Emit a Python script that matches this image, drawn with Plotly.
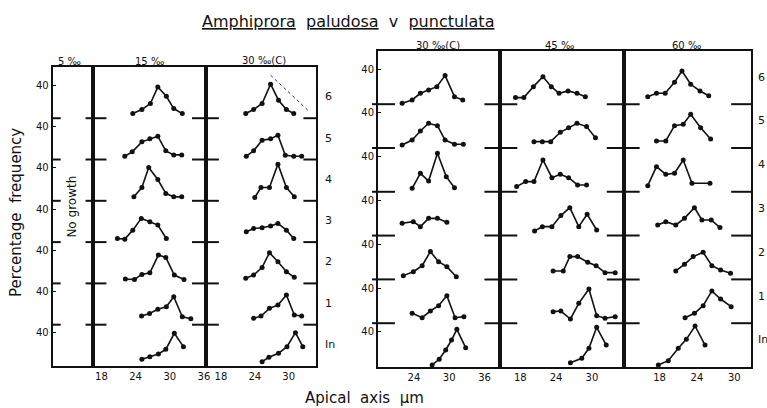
import plotly.graph_objects as go

W, H = 767, 408
FONT = "DejaVu Sans"

# ---------------- data (x: apical axis µm, y: percentage frequency) ----------------
# rows ordered from bottom to top: In, 1, 2, 3, 4, 5, 6
row_names = ["In", "1", "2", "3", "4", "5", "6"]
ROW_STEP = 50  # vertical offset (in % units) between stacked rows

# 15 ‰
s15_x = [
    [25.1, 26.5, 28.0, 29.3, 30.8, 32.4],
    [25.05, 26.45, 27.9, 29.4, 30.7, 32.2, 33.7],
    [22.2, 23.8, 25.1, 26.5, 28.0, 29.3, 30.8, 32.5],
    [20.8, 22.1, 23.5, 25.0, 26.5, 27.9, 29.4],
    [23.7, 25.1, 26.3, 27.9, 29.3, 30.7, 32.1],
    [22.1, 23.4, 25.1, 26.5, 27.9, 29.3, 30.7, 32.1],
    [23.5, 25.1, 26.6, 27.9, 29.4, 30.7, 32.2],
]
s15_y = [
    [8.1, 11.3, 14.5, 20.2, 39.5, 23.4],
    [10.5, 13.7, 18.6, 21.8, 33.9, 9.7, 7.3],
    [5.2, 4.8, 10.9, 12.9, 34.3, 31.5, 10.1, 4.8],
    [4.4, 3.6, 14.5, 28.7, 24.6, 20.6, 4.4],
    [4.8, 16.1, 40.4, 25.8, 8.9, 4.8, 4.8],
    [4.0, 9.3, 21.4, 25.0, 28.2, 10.5, 5.6, 5.6],
    [5.6, 10.5, 17.8, 37.9, 26.6, 11.7, 5.6],
]

# 30 ‰ (C), left block
s30a_x = [
    [25.3, 26.5, 28.2, 29.7, 31.2, 32.5],
    [23.8, 25.1, 26.6, 28.1, 29.6, 31.0, 32.3],
    [22.4, 23.8, 25.3, 26.6, 28.1, 29.6, 31.0],
    [22.5, 23.8, 25.3, 26.8, 28.1, 29.6, 30.9],
    [24.0, 25.1, 26.6, 28.1, 29.6, 31.0],
    [22.5, 23.8, 25.3, 26.8, 28.1, 29.4, 30.9, 32.3],
    [22.4, 23.8, 25.3, 26.8, 28.2, 29.6, 30.9],
]
s30a_y = [
    [5.2, 10.5, 15.3, 23.4, 40.3, 23.4],
    [7.7, 10.5, 19.8, 23.8, 35.9, 11.7, 10.5],
    [6.1, 10.1, 19.4, 37.1, 26.2, 14.1, 7.3],
    [12.5, 16.5, 17.4, 19.4, 22.6, 14.5, 4.4],
    [4.0, 16.1, 16.1, 44.4, 16.1, 4.8],
    [4.0, 10.5, 23.4, 25.0, 29.5, 5.2, 4.0, 4.0],
    [5.6, 10.5, 17.8, 41.2, 21.8, 10.5, 5.6],
]
guide_x = [26.8, 33.7]   # dotted guide line, row 6 of 30 ‰ (C)
guide_y = [52.1, 7.7]

# 30 ‰ (C), right block
s30b_x = [
    [27.1, 28.3, 29.4, 30.4, 31.3, 32.8],
    [23.7, 25.4, 26.8, 28.2, 29.6, 31.0, 32.5],
    [22.2, 23.9, 25.4, 26.8, 28.2, 29.6, 31.2],
    [22.0, 23.9, 25.1, 26.5, 28.0, 29.6],
    [23.7, 25.1, 26.5, 28.0, 29.5, 30.9],
    [22.0, 23.7, 25.1, 26.5, 28.0, 29.3, 30.9, 32.4],
    [22.0, 23.7, 25.1, 26.5, 27.9, 29.3, 30.9, 32.3],
]
s30b_y = [
    [2.3, 8.8, 19.4, 30.8, 43.0, 22.1],
    [11.3, 6.3, 13.9, 20.0, 31.4, 6.3, 7.5],
    [4.3, 8.8, 15.7, 31.7, 20.2, 14.5, 3.1],
    [14.0, 15.9, 10.2, 19.7, 19.7, 15.1],
    [4.0, 21.1, 12.3, 43.9, 17.3, 4.7],
    [3.4, 9.1, 19.4, 28.2, 25.5, 9.1, 4.2, 4.2],
    [1.0, 4.8, 12.4, 16.2, 20.0, 32.6, 8.6, 4.8],
]

# 45 ‰
s45_x = [
    [26.4, 28.3, 29.5, 30.8, 32.4],
    [23.5, 24.8, 26.4, 27.8, 29.5, 30.8, 32.2, 33.9],
    [23.5, 25.2, 26.3, 27.6, 29.3, 30.7, 32.2, 33.9],
    [20.4, 21.7, 23.3, 24.8, 26.3, 27.8, 29.2, 30.8],
    [17.4, 18.9, 20.3, 21.8, 23.3, 24.7, 26.1, 27.6, 29.1],
    [20.3, 21.7, 23.1, 24.7, 26.1, 27.5, 29.1, 30.6],
    [17.2, 18.6, 20.2, 21.8, 23.2, 24.5, 26.0, 27.5, 28.9],
]
s45_y = [
    [4.9, 9.9, 21.3, 45.3, 25.1],
    [13.2, 13.9, 4.8, 22.7, 39.0, 8.6, 5.6, 7.5],
    [9.6, 9.6, 26.0, 26.0, 19.5, 15.7, 7.7, 7.7],
    [5.3, 10.2, 10.2, 22.8, 31.9, 10.2, 24.3, 6.4],
    [5.9, 11.6, 11.6, 36.3, 16.1, 19.9, 16.1, 7.8, 7.8],
    [7.2, 7.2, 7.2, 17.9, 23.2, 28.2, 24.4, 11.8],
    [7.5, 7.5, 20.0, 31.4, 20.0, 12.4, 15.1, 12.4, 8.6],
]

# 60 ‰
s60_x = [
    [17.8, 19.4, 21.0, 22.3, 23.7, 25.3],
    [22.1, 23.6, 25.0, 26.4, 27.8, 29.5],
    [20.6, 22.0, 23.4, 25.0, 26.4, 27.8, 29.4],
    [17.7, 19.0, 20.6, 22.0, 23.6, 24.8, 26.3, 27.7],
    [16.1, 17.5, 19.0, 20.4, 21.8, 23.2, 26.1],
    [17.5, 19.0, 20.4, 21.8, 23.0, 24.6, 26.2],
    [16.1, 17.5, 18.9, 20.4, 21.6, 23.0, 24.5, 25.9],
]
s60_y = [
    [2.3, 7.2, 21.3, 31.6, 46.8, 25.1],
    [6.3, 11.3, 20.0, 36.8, 27.6, 18.9],
    [9.6, 17.2, 26.0, 30.9, 15.7, 10.7, 6.9],
    [12.1, 15.9, 12.1, 19.7, 31.9, 17.8, 17.8, 9.1],
    [7.0, 28.7, 19.9, 21.1, 36.3, 9.7, 9.7],
    [8.0, 8.0, 25.5, 27.0, 38.4, 23.2, 10.3],
    [8.6, 12.4, 12.4, 25.0, 37.9, 22.7, 15.1, 9.7],
]

panel_titles = ["5 \u2030", "15 \u2030", "30 \u2030(C)", "30 \u2030(C)", "45 \u2030", "60 \u2030"]
x_ticks = [[], [18, 24, 30, 36], [18, 24, 30], [24, 30, 36], [18, 24, 30], [18, 24, 30]]
panel_data = [None, (s15_x, s15_y), (s30a_x, s30a_y), (s30b_x, s30b_y), (s45_x, s45_y), (s60_x, s60_y)]

# ---------------- layout geometry ----------------
def px(x):
    return x / W

def py(y):
    return 1 - y / H

blocks = {
    "L": dict(ydom=[py(366), py(67)], yr=[0, 362]),
    "R": dict(ydom=[py(367), py(51)], yr=[0, 360.7]),
}
panels = [
    dict(xd=(53, 93), xr=(0, 1), b="L"),
    dict(xd=(93, 207), xr=(16.43, 36.35), b="L"),
    dict(xd=(207, 318), xr=(15.35, 34.9), b="L"),
    dict(xd=(380, 503), xr=(17.9, 38.7), b="R"),
    dict(xd=(503, 627), xr=(14.67, 35.33), b="R"),
    dict(xd=(627, 755), xr=(12.24, 32.7), b="R"),
]

fig = go.Figure()
layout = dict(
    width=W, height=H, margin=dict(l=0, r=0, t=0, b=0),
    paper_bgcolor="white", plot_bgcolor="white", showlegend=False,
    font=dict(family=FONT, color="#111"),
)

for i, p in enumerate(panels):
    n = i + 1
    xa = "x" if n == 1 else f"x{n}"
    ya = "y" if n == 1 else f"y{n}"
    xk = "xaxis" if n == 1 else f"xaxis{n}"
    yk = "yaxis" if n == 1 else f"yaxis{n}"
    blk = blocks[p["b"]]
    layout[xk] = dict(
        domain=[px(p["xd"][0]), px(p["xd"][1])], range=list(p["xr"]), anchor=ya,
        showline=True, mirror=True, linecolor="#111", linewidth=2,
        showgrid=False, zeroline=False, ticks="",
        tickmode="array", tickvals=x_ticks[i], ticktext=[str(t) for t in x_ticks[i]],
        showticklabels=bool(x_ticks[i]), tickfont=dict(size=10, family=FONT),
        fixedrange=True,
    )
    first = i in (0, 3)
    layout[yk] = dict(
        domain=blk["ydom"], range=blk["yr"], anchor=xa,
        showline=True, mirror=True, linecolor="#111", linewidth=2,
        showgrid=False, zeroline=False,
        tickmode="array",
        tickvals=[40 + ROW_STEP * k for k in range(7)] if first else [],
        ticktext=["40"] * 7 if first else [],
        ticks="inside" if first else "", ticklen=3, tickcolor="#111",
        showticklabels=first, tickfont=dict(size=10, family=FONT),
        fixedrange=True,
    )
    if panel_data[i] is None:
        fig.add_trace(go.Scatter(x=[], y=[], xaxis=xa, yaxis=ya, hoverinfo="skip"))
        continue
    xs, ys = panel_data[i]
    for k in range(7):
        fig.add_trace(go.Scatter(
            x=xs[k], y=[v + ROW_STEP * k for v in ys[k]],
            xaxis=xa, yaxis=ya, mode="lines+markers",
            line=dict(color="#111", width=1.6),
            marker=dict(color="#111", size=5),
            name=f"{panel_titles[i]} {row_names[k]}",
        ))
    if i == 2:
        fig.add_trace(go.Scatter(
            x=guide_x, y=[v + ROW_STEP * 6 for v in guide_y], xaxis=xa, yaxis=ya,
            mode="lines", line=dict(color="#333", width=1, dash="dot"), hoverinfo="skip",
        ))

# row divider marks on the panel borders
shapes = []
div_marks = {
    "L": ("y", [(53, 61), (86, 107), (193, 220), (305, 318)]),
    "R": ("y4", [(374, 397), (487, 520), (610, 643), (735, 755)]),
}
for b, (yref, segs) in div_marks.items():
    for k in range(1, 7):
        for x0, x1 in segs:
            shapes.append(dict(type="line", xref="paper", yref=yref,
                               x0=px(x0), x1=px(x1), y0=ROW_STEP * k, y1=ROW_STEP * k,
                               line=dict(color="#111", width=2)))
layout["shapes"] = shapes

ann = []
# panel headings
head_pos = [(70, 61), (150, 61), (265, 60), (440, 45), (562, 45), (690, 45)]
for t, (x, y) in zip(panel_titles, head_pos):
    ann.append(dict(text=t, x=px(x), y=py(y), xref="paper", yref="paper",
                    showarrow=False, font=dict(size=10, family=FONT),
                    xanchor="center", yanchor="middle"))
# row labels on the right of each block
for k, rn in enumerate(row_names):
    ann.append(dict(text=rn, x=px(325), y=ROW_STEP * k + 26, xref="paper", yref="y",
                    showarrow=False, font=dict(size=11, family=FONT),
                    xanchor="left", yanchor="middle"))
    ann.append(dict(text=rn, x=px(760), y=ROW_STEP * k + 31, xref="paper", yref="y4",
                    showarrow=False, font=dict(size=11, family=FONT),
                    xanchor="left", yanchor="middle"))
# titles
ann.append(dict(text="<u>Amphiprora</u>  <u>paludosa</u>  v  <u>punctulata</u>",
                x=px(350), y=py(21), xref="paper", yref="paper", showarrow=False,
                xanchor="center", yanchor="middle", font=dict(size=16, family=FONT)))
ann.append(dict(text="Percentage  frequency", x=px(16), y=py(212), xref="paper", yref="paper",
                showarrow=False, textangle=-90, xanchor="center", yanchor="middle",
                font=dict(size=15, family=FONT)))
ann.append(dict(text="No growth", x=px(72), y=py(207), xref="paper", yref="paper",
                showarrow=False, textangle=-90, xanchor="center", yanchor="middle",
                font=dict(size=12, family=FONT)))
ann.append(dict(text="Apical  axis  \u00b5m", x=px(366), y=py(398), xref="paper", yref="paper",
                showarrow=False, xanchor="center", yanchor="middle",
                font=dict(size=15, family=FONT)))
layout["annotations"] = ann

fig.update_layout(**layout)
fig.write_html("out.html")
